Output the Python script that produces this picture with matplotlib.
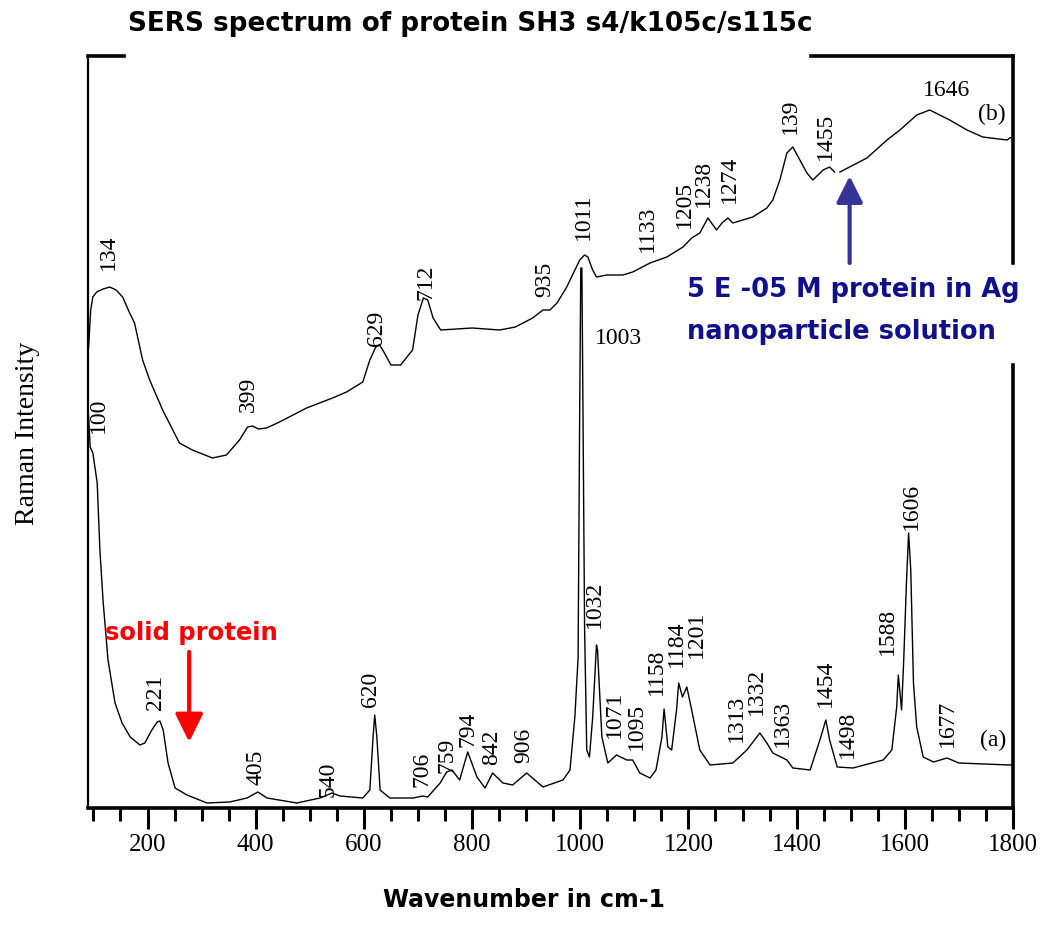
import matplotlib
matplotlib.use("Agg")
import matplotlib.pyplot as plt
from matplotlib.patches import Rectangle
import numpy as np

# spectrum (a): solid protein
wn_a = [91, 94, 99, 107, 112, 118, 127, 140, 153, 168, 186, 195, 208, 218, 223, 229, 238, 251,
        273, 310, 352, 384, 404, 421, 476, 519, 541, 556, 598, 611, 617, 620, 624, 630, 648,
        691, 709, 718, 741, 753, 763, 777, 792, 809, 824, 838, 857, 875, 901, 931, 968, 981,
        990, 996, 999, 1001, 1003, 1005, 1008, 1012, 1017, 1023, 1030, 1032, 1034, 1040,
        1051, 1067, 1086, 1097, 1110, 1129, 1140, 1151, 1155, 1162, 1169, 1178, 1182, 1189,
        1197, 1206, 1221, 1240, 1282, 1308, 1332, 1345, 1356, 1382, 1393, 1425, 1443, 1454,
        1461, 1475, 1504, 1560, 1576, 1585, 1588, 1594, 1598, 1603, 1607, 1611, 1616, 1622,
        1634, 1653, 1678, 1700, 1794, 1800]
int_a = [392, 361, 355, 325, 258, 206, 148, 105, 85, 71, 63, 65, 78, 86, 87, 78, 45, 20,
         13, 5, 6, 10, 16, 10, 5, 10, 15, 12, 10, 18, 71, 93, 71, 18, 10,
         10, 12, 11, 25, 36, 38, 28, 56, 31, 20, 35, 25, 23, 35, 21, 28, 38,
         91, 150, 400, 540, 540, 400, 181, 58, 51, 91, 163, 158, 135, 71,
         45, 53, 48, 48, 35, 30, 38, 71, 99, 61, 58, 98, 125, 111,
         121, 98, 58, 43, 45, 58, 75, 65, 55, 48, 40, 38, 68, 88,
         68, 41, 40, 48, 58, 101, 133, 98, 148, 225, 275, 238, 125, 81,
         51, 46, 50, 45, 43, 43]

# spectrum (b): 5E-05 M protein in Ag nanoparticle solution (nan = gap in trace)
wn_b = [91, 95, 99, 106, 118, 130, 142, 154, 167, 176, 191, 204, 228, 259, 283, 320, 346, 370,
        385, 394, 405, 420, 444, 494, 542, 568, 598, 611, 622, 629, 637, 650, 668, 690, 700,
        710, 718, 728, 742, 800, 851, 880, 912, 931, 944, 957, 975, 999, 1008, 1014, 1023,
        1030, 1049, 1079, 1097, 1129, 1160, 1190, 1206, 1221, 1236, 1252, 1262, 1273, 1282,
        1319, 1345, 1356, 1369, 1382, 1393, 1406, 1419, 1430, 1449, 1461, 1470, 1475, 1480,
        1530, 1567, 1591, 1622, 1646, 1683, 1715, 1744, 1789, 1794, 1800]
int_b = [460, 498, 511, 516, 519, 521, 518, 511, 495, 485, 448, 428, 398, 365, 358, 350, 353, 368,
         381, 382, 379, 380, 386, 400, 410, 416, 426, 448, 461, 463, 456, 443, 443, 458, 493,
         510, 508, 490, 478, 480, 478, 481, 490, 498, 498, 505, 521, 548, 553, 551, 538,
         531, 533, 533, 536, 545, 551, 561, 570, 575, 590, 578, 585, 590, 585,
         591, 600, 608, 628, 655, 661, 648, 635, 628, 638, 641, 636, np.nan, 636,
         650, 668, 678, 693, 698, 688, 678, 671, 668, 670, 671]

# peak labels (text, wavenumber, bottom of label)
labels_a = [("100", 110, 375), ("221", 214, 98), ("405", 400, 23), ("540", 534, 11),
            ("620", 613, 101), ("706", 707, 21), ("759", 753, 35), ("794", 792, 61),
            ("842", 837, 43), ("906", 896, 45), ("1032", 1027, 180), ("1071", 1064, 70),
            ("1095", 1103, 58), ("1158", 1140, 113), ("1184", 1178, 141), ("1201", 1215, 150),
            ("1313", 1288, 66), ("1332", 1326, 93), ("1363", 1374, 61), ("1454", 1454, 101),
            ("1498", 1494, 50), ("1588", 1568, 153), ("1606", 1613, 278), ("1677", 1679, 61)]
labels_b = [("134", 127, 538), ("399", 386, 396), ("629", 624, 462), ("712", 715, 508),
            ("935", 935, 511), ("1011", 1005, 568), ("1133", 1125, 556), ("1205", 1193, 580),
            ("1238", 1227, 601), ("1274", 1276, 605), ("139", 1389, 674), ("1455", 1454, 648)]

serif = "Liberation Serif"
bold = "DejaVu Sans"

fig = plt.figure(figsize=(10.42, 9.36), dpi=100)
ax = fig.add_axes([88 / 1042, 1 - 808 / 936, 925 / 1042, 752 / 936])

ax.plot(wn_a, int_a, color="black", lw=1.0)
ax.plot(wn_b, int_b, color="black", lw=1.0)

ax.set_xlim(90, 1800)
ax.set_ylim(0, 752)
ax.set_xticks(range(200, 1801, 200))
ax.set_xticks(range(100, 1801, 50), minor=True)
ax.set_yticks([])
ax.tick_params(axis="x", which="major", length=15, width=2.2, direction="out")
ax.tick_params(axis="x", which="minor", length=9, width=2.2, direction="out")
for lab in ax.get_xticklabels():
    lab.set_fontfamily(serif)
    lab.set_fontsize(18)
ax.spines["left"].set_linewidth(1.6)
for s in ["right", "bottom", "top"]:
    ax.spines[s].set_linewidth(2.6)

for txt, x, y in labels_a + labels_b:
    ax.text(x, y, txt, rotation=90, ha="center", va="bottom", family=serif, fontsize=17)

ax.text(1027, 470, "1003", ha="left", va="center", family=serif, fontsize=17)
ax.text(1677, 717, "1646", ha="center", va="center", family=serif, fontsize=17)
ax.text(1761, 694, "(b)", ha="center", va="center", family=serif, fontsize=17)
ax.text(1764, 68, "(a)", ha="center", va="center", family=serif, fontsize=17)

# arrows
ax.annotate("", xy=(277, 66), xytext=(277, 156),
            arrowprops=dict(arrowstyle="-|>,head_length=0.85,head_width=0.42",
                            color="red", lw=3, mutation_scale=20, shrinkA=0, shrinkB=0))
ax.annotate("", xy=(1498, 632), xytext=(1498, 545),
            arrowprops=dict(arrowstyle="-|>,head_length=0.8,head_width=0.4",
                            color="#353597", lw=3, mutation_scale=20, shrinkA=0, shrinkB=0))

ax.text(121, 175, "solid protein", color="red", family=bold, fontweight="bold", fontsize=17.5,
        ha="left", va="center")

# white patches hiding parts of the frame behind title and note
fig.patches.append(Rectangle((126 / 1042, 1 - 64 / 936), (808 - 126) / 1042, 30 / 936,
                             transform=fig.transFigure, color="white", zorder=5))
fig.patches.append(Rectangle((1000 / 1042, 1 - 362 / 936), 40 / 1042, 97 / 936,
                             transform=fig.transFigure, color="white", zorder=5))

fig.text(128 / 1042, 1 - 24 / 936, "SERS spectrum of protein SH3 s4/k105c/s115c",
         family=bold, fontweight="bold", fontsize=18.9, ha="left", va="center", zorder=6)
fig.text(687 / 1042, 1 - 290 / 936, "5 E -05 M protein in Ag", color="#10108a",
         family=bold, fontweight="bold", fontsize=18.5, ha="left", va="center", zorder=6)
fig.text(687 / 1042, 1 - 332 / 936, "nanoparticle solution", color="#10108a",
         family=bold, fontweight="bold", fontsize=18.5, ha="left", va="center", zorder=6)
fig.text(524 / 1042, 1 - 900 / 936, "Wavenumber in cm-1", family=bold, fontweight="bold",
         fontsize=17, ha="center", va="center")
fig.text(28 / 1042, 1 - 433 / 936, "Raman Intensity", family=serif, fontsize=20,
         rotation=90, ha="center", va="center")

fig.savefig("out.png", dpi=100)
